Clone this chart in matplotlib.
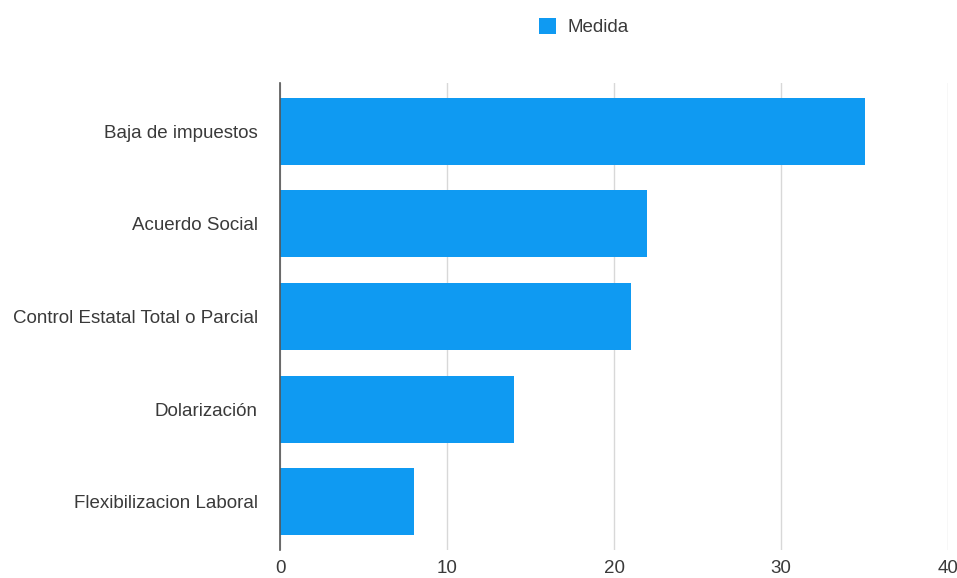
import matplotlib
matplotlib.use("Agg")
import matplotlib.pyplot as plt
from matplotlib.patches import Patch

# dados do gráfico
categorias = ["Baja de impuestos", "Acuerdo Social", "Control Estatal Total o Parcial",
              "Dolarización", "Flexibilizacion Laboral"]
valores = [35, 22, 21, 14, 8]
ticks_x = [0, 10, 20, 30, 40]

cor_barra = "#0f9af2"
cor_texto = "#3a3a3a"

plt.rcParams["font.family"] = ["Liberation Sans", "DejaVu Sans"]

fig = plt.figure(figsize=(9.57, 5.78), dpi=100, facecolor="white")
ax = fig.add_axes([0.2926, 0.0484, 0.698, 0.808])

posicoes = list(range(len(categorias)))
ax.barh(posicoes, valores, height=0.72, color=cor_barra, zorder=3)

ax.set_xlim(0, 40)
ax.set_ylim(4.52, -0.52)
ax.set_xticks(ticks_x)
ax.set_yticks(posicoes)
ax.set_yticklabels(categorias, fontsize=13.5, color=cor_texto)
ax.set_xticklabels([str(t) for t in ticks_x], fontsize=13.5, color=cor_texto)
ax.tick_params(axis="y", length=0, pad=16)
ax.tick_params(axis="x", length=0, pad=7)

ax.grid(axis="x", color="#d8d8d8", linewidth=1, zorder=0)
for lado in ["top", "right", "bottom"]:
    ax.spines[lado].set_visible(False)
ax.spines["left"].set_color("#555555")
ax.spines["left"].set_linewidth(1.2)
ax.spines["left"].set_zorder(4)

# legenda no topo
fig.legend(handles=[Patch(facecolor=cor_barra, label="Medida")],
           loc="center", bbox_to_anchor=(0.610, 0.953), frameon=False,
           fontsize=13.5, handlelength=0.95, handleheight=0.95, handletextpad=0.6,
           labelcolor=cor_texto)

fig.savefig("out.png", dpi=100, facecolor="white")
